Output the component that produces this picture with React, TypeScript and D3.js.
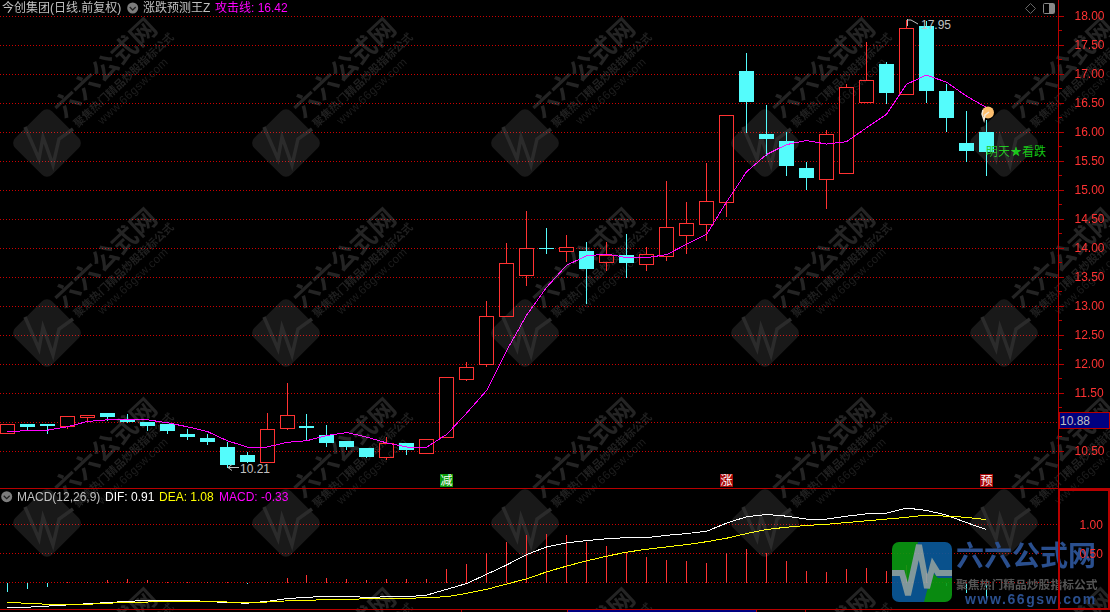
import React, { useRef, useEffect } from "react";
import * as d3 from "d3";

const opens = [10.80,10.96,10.96,10.93,11.07,11.14,11.03,10.99,10.95,10.78,10.72,10.56,10.42,10.31,10.89,10.92,10.76,10.66,10.54,10.38,10.63,10.46,10.74,11.73,12.00,12.83,13.53,14.00,13.95,13.94,13.76,13.87,13.72,13.86,14.22,14.41,14.79,17.05,15.96,15.84,15.38,15.19,15.29,16.52,17.17,16.66,17.83,16.71,15.81,16.00];
const closes = [10.95,10.91,10.92,11.09,11.12,11.08,11.00,10.93,10.84,10.73,10.65,10.25,10.30,10.87,11.12,10.89,10.63,10.56,10.39,10.63,10.51,10.69,11.77,11.94,12.83,13.73,13.99,13.98,14.01,13.63,13.87,13.74,13.90,14.35,14.42,14.80,16.29,16.52,15.88,15.41,15.20,15.96,16.77,16.89,16.67,17.80,16.71,16.24,15.67,15.65];
const highs = [10.97,10.96,10.96,11.11,11.13,11.15,11.14,10.99,10.95,10.89,10.81,10.67,10.49,11.16,11.69,11.15,10.96,10.68,10.54,10.75,10.65,10.71,11.77,12.04,13.10,14.10,14.65,14.36,14.24,14.12,14.12,14.25,14.03,15.17,14.81,15.48,16.29,17.38,16.48,16.01,15.50,16.05,16.84,17.56,17.22,17.95,17.93,16.84,16.38,16.22];
const lows = [10.80,10.85,10.81,10.89,11.00,11.03,11.00,10.85,10.81,10.69,10.62,10.21,10.30,10.31,10.87,10.70,10.57,10.53,10.38,10.35,10.44,10.46,10.74,11.72,11.96,12.83,13.36,13.91,13.77,13.05,13.62,13.50,13.62,13.79,13.91,14.13,14.55,16.00,15.60,15.26,15.01,14.69,15.29,16.52,16.50,16.66,16.52,16.01,15.50,15.26];
const attackLine = [10.83,10.84,10.85,10.91,11.00,11.03,11.03,11.03,10.98,10.91,10.83,10.67,10.56,10.56,10.64,10.67,10.76,10.81,10.73,10.63,10.56,10.56,10.78,11.15,11.54,12.23,12.84,13.32,13.70,13.86,13.89,13.83,13.83,13.88,14.06,14.23,14.79,15.31,15.61,15.78,15.85,15.79,15.83,16.07,16.30,16.82,16.98,16.86,16.62,16.42];
const dif = [-0.43,-0.43,-0.41,-0.39,-0.37,-0.35,-0.33,-0.31,-0.31,-0.31,-0.33,-0.35,-0.36,-0.33,-0.28,-0.26,-0.24,-0.24,-0.26,-0.25,-0.25,-0.22,-0.12,-0.02,0.14,0.30,0.48,0.61,0.68,0.72,0.75,0.77,0.77,0.81,0.84,0.88,1.02,1.13,1.17,1.14,1.09,1.09,1.14,1.18,1.19,1.28,1.24,1.16,1.03,0.91];
const dea = [-0.35,-0.36,-0.38,-0.38,-0.38,-0.36,-0.35,-0.34,-0.33,-0.33,-0.33,-0.34,-0.34,-0.34,-0.32,-0.31,-0.30,-0.30,-0.28,-0.28,-0.28,-0.26,-0.25,-0.19,-0.12,-0.03,0.06,0.18,0.28,0.37,0.45,0.52,0.57,0.61,0.65,0.70,0.76,0.84,0.91,0.95,0.98,1.00,1.03,1.06,1.09,1.12,1.16,1.14,1.12,1.08];
const macd = [-0.16,-0.11,-0.08,0.01,0.02,0.04,0.06,0.04,0.02,0.02,0.02,0.01,-0.02,0.02,0.09,0.13,0.09,0.07,0.04,0.06,0.06,0.07,0.23,0.33,0.51,0.70,0.82,0.85,0.82,0.71,0.63,0.52,0.44,0.40,0.37,0.35,0.51,0.59,0.52,0.37,0.21,0.18,0.23,0.25,0.21,0.30,0.17,-0.05,-0.18,-0.33];

const priceTicks = [18,17.5,17,16.5,16,15.5,15,14.5,14,13.5,13,12.5,12,11.5,11,10.5];
const priceMinorTicks = [17.75,17.25,16.75,16.25,15.75,15.25,14.75,14.25,13.75,13.25,12.75,12.25,11.75,11.25,10.75];
const macdTicks = [1,0.5];
const signals = [{ i: 22, text: "减", color: "#0a9a0a" }, { i: 36, text: "涨", color: "#a80808" }, { i: 49, text: "预", color: "#a80808" }];
const watermarkXs = [47, 286, 525, 765, 1004];
const watermarkYs = [143, 333, 523, 713];

const RED = "#ff3232";
const CYAN = "#54fcfc";
const DARK_RED = "#b80000";
const MAGENTA = "#ff00ff";
const GREY = "#c0c0c0";
const FONT = '"Liberation Sans", "Noto Sans CJK SC", sans-serif';

const App = () => {
  const svgRef = useRef<SVGSVGElement>(null);
  const width = 1110;
  const height = 612;

  useEffect(() => {
    const svg = d3.select(svgRef.current);
    svg.selectAll("*").remove();
    svg.attr("font-family", FONT);

    const plotRight = 1058;
    const x = d3.scaleLinear().domain([0, 49]).range([7.3, 986.3]);
    const y = d3.scaleLinear().domain([18, 10.5]).range([16, 450.5]);
    const yMacd = d3.scaleLinear().domain([1, 0]).range([524.3, 582.3]);
    const px = (i: number) => Math.floor(x(i)) + 0.5;
    const py = (v: number) => Math.round(y(v)) + 0.5;
    const pm = (v: number) => Math.floor(yMacd(v)) + 0.5;
    const idx = d3.range(opens.length);
    const fmt = (v: number) => d3.format(".2f")(v).replace("−", "-");

    svg.append("rect").attr("width", width).attr("height", height).attr("fill", "#000");

    // dotted grid
    const grid = svg.append("g").attr("stroke", "#cc0000").attr("stroke-dasharray", "1 2").attr("shape-rendering", "crispEdges");
    priceTicks.forEach(t => grid.append("line").attr("x1", 0).attr("x2", plotRight).attr("y1", py(t)).attr("y2", py(t)));
    [1, 0.5, 0].forEach(t => grid.append("line").attr("x1", 0).attr("x2", plotRight).attr("y1", pm(t)).attr("y2", pm(t)));

    // candles
    const candles = svg.append("g").attr("shape-rendering", "crispEdges");
    idx.forEach(i => {
      const up = closes[i] >= opens[i];
      const color = up ? RED : CYAN;
      const top = py(Math.max(opens[i], closes[i])) - 0.5;
      const bottom = py(Math.min(opens[i], closes[i])) - 0.5;
      candles.append("line").attr("x1", px(i)).attr("x2", px(i)).attr("y1", py(highs[i])).attr("y2", py(lows[i])).attr("stroke", color);
      const left = px(i) - 7.5;
      if (up) {
        candles.append("rect").attr("x", left).attr("y", top).attr("width", 15).attr("height", bottom - top + 1).attr("fill", color);
        candles.append("rect").attr("x", left + 1).attr("y", top + 1).attr("width", 13).attr("height", Math.max(bottom - top - 1, 0)).attr("fill", "#000");
      } else {
        candles.append("rect").attr("x", left).attr("y", top).attr("width", 15).attr("height", Math.max(bottom - top, 1)).attr("fill", color);
      }
    });

    const attack = d3.line<number>().x((_, i) => x(i)).y(d => y(d));
    svg.append("path").datum(attackLine).attr("fill", "none").attr("stroke", MAGENTA).attr("shape-rendering", "crispEdges").attr("d", attack);

    // high / low marks
    svg.append("path").attr("d", `M239 ${py(10.21)}H228M232 ${py(10.21) - 3}L228 ${py(10.21)}L232 ${py(10.21) + 3}`).attr("fill", "none").attr("stroke", GREY);
    svg.append("text").attr("x", 240).attr("y", 473).attr("font-size", 12).attr("fill", GREY).text(fmt(d3.min(lows)));
    svg.append("path").attr("d", "M907.5 19V26M907.5 20H911L918 24").attr("fill", "none").attr("stroke", GREY);
    svg.append("text").attr("x", 921).attr("y", 29).attr("font-size", 12).attr("fill", GREY).text(fmt(d3.max(highs)));

    // hand marker
    const hand = svg.append("g");
    hand.append("circle").attr("cx", px(49) + 1.5).attr("cy", y(attackLine[49]) + 5).attr("r", 6).attr("fill", "#fdbe6e");
    hand.append("path").attr("d", "M983 110L982 114L984 120L985 115L989 112").attr("fill", "none").attr("stroke", "#f4e8d8").attr("stroke-width", 1.5);

    svg.append("text").attr("x", 986).attr("y", 156).attr("font-size", 12).attr("fill", "#14c814").text("明天★看跌");

    // signal chips
    signals.forEach(s => {
      svg.append("rect").attr("x", px(s.i) - 6.5).attr("y", 474).attr("width", 13).attr("height", 13).attr("fill", s.color);
      svg.append("text").attr("x", px(s.i)).attr("y", 485).attr("text-anchor", "middle").attr("font-size", 12).attr("fill", "#fff").text(s.text);
    });

    // MACD bars
    const bars = svg.append("g").attr("shape-rendering", "crispEdges");
    idx.forEach(i => {
      bars.append("line").attr("x1", px(i)).attr("x2", px(i)).attr("y1", pm(0)).attr("y2", pm(macd[i])).attr("stroke", macd[i] >= 0 ? RED : CYAN);
    });
    const macdLine = d3.line<number>().x((_, i) => x(i)).y(d => yMacd(d));
    svg.append("path").datum(dif).attr("fill", "none").attr("stroke", "#fff").attr("shape-rendering", "crispEdges").attr("d", macdLine);
    svg.append("path").datum(dea).attr("fill", "none").attr("stroke", "#ffff00").attr("shape-rendering", "crispEdges").attr("d", macdLine);

    // watermark, lightens only the dark parts
    const marks = svg.append("g").style("mix-blend-mode", "lighten");
    watermarkYs.forEach(wy => watermarkXs.forEach(wx => {
      const g = marks.append("g").attr("transform", `translate(${wx},${wy})`);
      g.append("rect").attr("x", -26).attr("y", -26).attr("width", 52).attr("height", 52).attr("rx", 7).attr("transform", "rotate(45)").attr("fill", "#191919");
      g.append("path").attr("d", "M-22 -16L-8 16L-4 -6L6 22L12 -4L26 -14").attr("fill", "none").attr("stroke", "#2b2b2b").attr("stroke-width", 3.5);
      g.append("text").attr("transform", "translate(17,-24) rotate(-43)").attr("font-size", 26).attr("font-weight", 700).attr("fill", "#242424").text("六六公式网");
      g.append("text").attr("transform", "translate(31,-15) rotate(-43)").attr("font-size", 11).attr("font-weight", 700).attr("fill", "#202020").text("聚焦热门精品炒股指标公式");
      g.append("text").attr("transform", "translate(55,-18) rotate(-43)").attr("font-size", 11.5).attr("letter-spacing", 0.5).attr("fill", "#1e1e1e").text("www.66gsw.com");
    }));

    // logo text sits under the axis frame
    svg.append("text").attr("x", 956).attr("y", 566).attr("font-size", 28).attr("font-weight", 700).attr("fill", "#2a4f8e").text("六六公式网");
    svg.append("text").attr("x", 956).attr("y", 589).attr("font-size", 11.8).attr("font-weight", 700).attr("fill", "#555").text("聚焦热门精品炒股指标公式");
    svg.append("text").attr("x", 965).attr("y", 604).attr("font-size", 14).attr("font-weight", 700).attr("letter-spacing", 1.6).attr("fill", "#2a4f8e").text("www.66gsw.com");

    // axes, the 11.00 label is hidden behind the cursor readout
    const axisX = plotRight + 0.5;
    const priceAxis = svg.append("g").attr("transform", `translate(${axisX},0)`)
      .call(d3.axisRight(y).tickValues(priceTicks).tickFormat((d: any) => (d === 11 ? "" : fmt(d))).tickSize(5).tickPadding(11).tickSizeOuter(0));
    const minorAxis = svg.append("g").attr("transform", `translate(${axisX},0)`)
      .call(d3.axisRight(y).tickValues(priceMinorTicks).tickFormat(() => "").tickSize(3).tickSizeOuter(0));
    [priceAxis, minorAxis].forEach(a => {
      a.select(".domain").remove();
      a.selectAll("line").attr("stroke", DARK_RED).attr("shape-rendering", "crispEdges");
      a.selectAll("text").attr("fill", RED).attr("font-size", 12).attr("font-family", FONT);
    });
    svg.append("line").attr("x1", axisX).attr("x2", axisX).attr("y1", 0).attr("y2", 489).attr("stroke", DARK_RED).attr("shape-rendering", "crispEdges");

    const lowerAxis = svg.append("g").attr("transform", `translate(${axisX},0)`)
      .call(d3.axisRight(yMacd).tickValues(macdTicks).tickFormat((d: any) => fmt(d)).tickSize(0).tickPadding(21));
    lowerAxis.select(".domain").remove();
    lowerAxis.selectAll("text").attr("fill", RED).attr("font-size", 12).attr("font-family", FONT);

    const frame = svg.append("g").attr("shape-rendering", "crispEdges");
    frame.append("line").attr("x1", 0).attr("x2", width).attr("y1", 488.5).attr("y2", 488.5).attr("stroke", DARK_RED);
    frame.append("rect").attr("x", 1059).attr("y", 490).attr("width", 50).attr("height", 119).attr("fill", "none").attr("stroke", DARK_RED).attr("stroke-width", 2);
    frame.append("line").attr("x1", 0).attr("x2", width).attr("y1", 609.5).attr("y2", 609.5).attr("stroke", DARK_RED);
    frame.append("rect").attr("x", 567).attr("y", 610).attr("width", 189).attr("height", 2).attr("fill", "#000080");
    [461, 567, 756, 805].forEach(t => frame.append("line").attr("x1", t + 0.5).attr("x2", t + 0.5).attr("y1", 610).attr("y2", 612).attr("stroke", DARK_RED));

    // cursor price readout
    frame.append("rect").attr("x", 1059.5).attr("y", 412.5).attr("width", 50).attr("height", 16).attr("fill", "#000080").attr("stroke", DARK_RED);
    svg.append("text").attr("x", 1060).attr("y", 425).attr("font-size", 12).attr("fill", GREY).text("10.88");

    // logo square
    const defs = svg.append("defs");
    defs.append("clipPath").attr("id", "logo-clip").append("rect").attr("x", 892).attr("y", 542).attr("width", 60).attr("height", 60).attr("rx", 7);
    const logo = svg.append("g").attr("clip-path", "url(#logo-clip)").attr("opacity", 0.9);
    logo.append("rect").attr("x", 892).attr("y", 542).attr("width", 60).attr("height", 60).attr("fill", "#0a5a9c");
    logo.append("path").attr("d", "M892 542H918L908 590L902 573H892Z").attr("fill", "#0a9a12");
    logo.append("path").attr("d", "M924 602L932 572L938 578H952V602Z").attr("fill", "#0a9a12");
    logo.append("path").attr("d", "M892 573H902L908 595L919 545L927 588L933 565L938 573H952").attr("fill", "none").attr("stroke", "#90a8ac").attr("stroke-width", 6);

    // header text
    const label = (parent: any, tx: number, ty: number, text: string, color: string) =>
      parent.append("text").attr("x", tx).attr("y", ty).attr("font-size", 12).attr("fill", color).text(text);
    const chevron = (cx: number, cy: number) => {
      svg.append("circle").attr("cx", cx).attr("cy", cy).attr("r", 5.5).attr("fill", "#7d7d7d");
      svg.append("path").attr("d", `M${cx - 3} ${cy - 1}L${cx} ${cy + 2}L${cx + 3} ${cy - 1}`).attr("fill", "none").attr("stroke", "#222").attr("stroke-width", 1.3);
    };
    label(svg, 2, 12, "今创集团(日线.前复权)", GREY);
    chevron(132.7, 8);
    label(svg, 143, 12, "涨跌预测王Z", GREY);
    label(svg, 215, 12, `攻击线: ${fmt(attackLine[attackLine.length - 1])}`, MAGENTA);
    chevron(6.7, 496.7);
    label(svg, 17, 501, "MACD(12,26,9)", GREY);
    label(svg, 105, 501, `DIF: ${fmt(dif[dif.length - 1])}`, "#fff");
    label(svg, 159, 501, `DEA: ${fmt(dea[dea.length - 1])}`, "#ffff00");
    label(svg, 219, 501, `MACD: ${fmt(macd[macd.length - 1])}`, MAGENTA);

    // window icons
    svg.append("path").attr("d", "M1030.5 3.5L1035.5 8.5L1030.5 13.5L1025.5 8.5Z").attr("fill", "none").attr("stroke", "#666");
    svg.append("rect").attr("x", 1043.5).attr("y", 3.5).attr("width", 11).attr("height", 10).attr("rx", 1).attr("fill", "none").attr("stroke", "#888");
    svg.append("rect").attr("x", 1049).attr("y", 4).attr("width", 5).attr("height", 9).attr("fill", "#888");
  }, []);

  return <svg ref={svgRef} width={width} height={height} style={{ position: "absolute", left: 0, top: 0, display: "block" }}></svg>;
};

export default App;
